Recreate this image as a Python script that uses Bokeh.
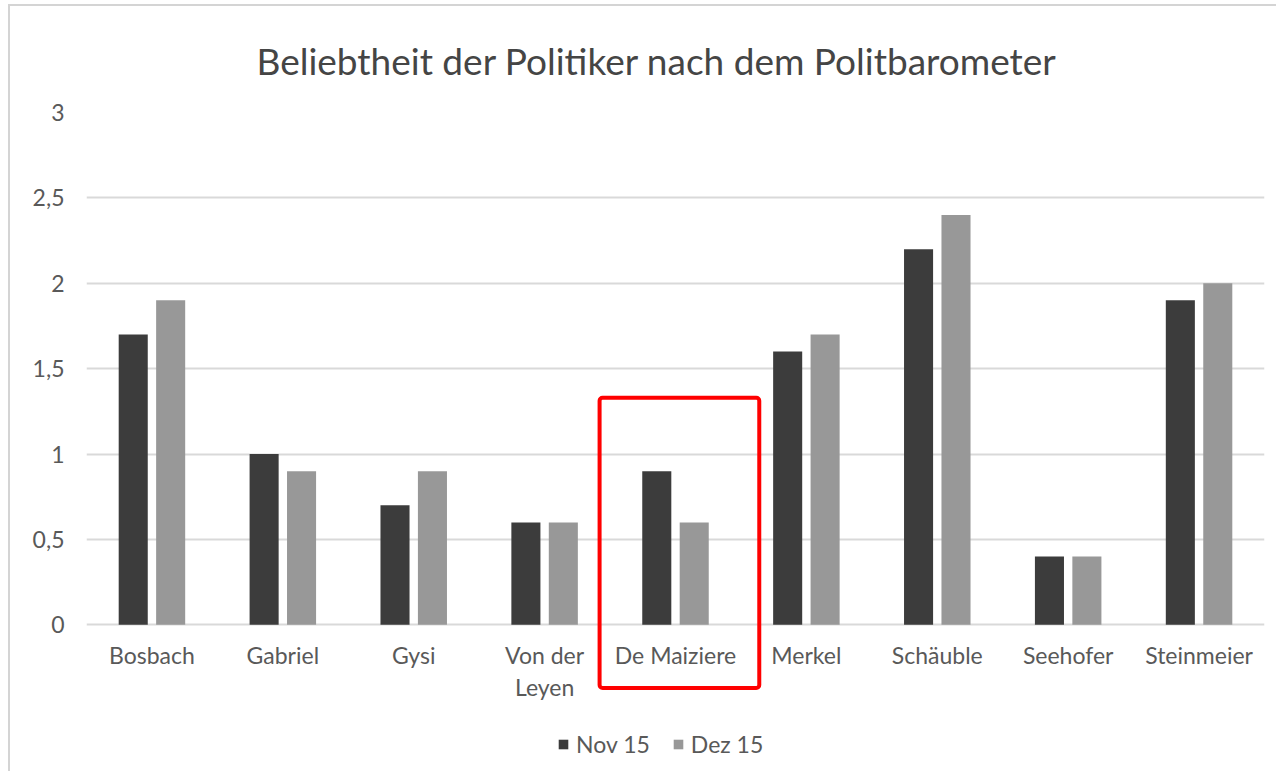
from bokeh.plotting import figure
from bokeh.models import (ColumnDataSource, FactorRange, Range1d, Legend, LegendItem,
                          BoxAnnotation, CustomJSTickFormatter, FixedTicker, Title)
from bokeh.core.properties import value
from bokeh.transform import dodge
from bokeh.embed import file_html
from bokeh.resources import INLINE

politicians = ["Bosbach", "Gabriel", "Gysi", "Von der Leyen", "De Maiziere",
               "Merkel", "Schäuble", "Seehofer", "Steinmeier"]
tick_labels = ["Bosbach", "Gabriel", "Gysi", "Von der\nLeyen", "De Maiziere",
               "Merkel", "Schäuble", "Seehofer", "Steinmeier"]
nov15 = [1.7, 1.0, 0.7, 0.6, 0.9, 1.6, 2.2, 0.4, 1.9]
dez15 = [1.9, 0.9, 0.9, 0.6, 0.6, 1.7, 2.4, 0.4, 2.0]
series_labels = ["Nov 15", "Dez 15"]
y_ticks = [0, 0.5, 1, 1.5, 2, 2.5, 3]
title_text = "Beliebtheit der Politiker nach dem Politbarometer"
highlight = "De Maiziere"

FONT = "Lato"
TEXT = "#595959"
DARK = "#3c3c3c"
LIGHT = "#989898"
GRID = "#d9d9d9"

src = ColumnDataSource(dict(cat=politicians, nov=nov15, dez=dez15,
                            lab=tick_labels, base=[0] * len(politicians)))

p = figure(x_range=FactorRange(factors=politicians), y_range=Range1d(-0.8, 3),
           width=1268, height=767, output_backend="svg", toolbar_location=None,
           min_border_left=76, min_border_right=14, min_border_top=105,
           min_border_bottom=12, title=None)
p.styles = {"margin-left": "8px", "margin-top": "4px",
            "border-left": "2px solid #d4d4d4", "border-top": "2px solid #d4d4d4"}
p.outline_line_color = None
p.background_fill_color = "white"
p.border_fill_color = "white"

r1 = p.vbar(x=dodge("cat", -0.143, range=p.x_range), top="nov", width=0.222,
            source=src, fill_color=DARK, line_color=None)
r2 = p.vbar(x=dodge("cat", 0.143, range=p.x_range), top="dez", width=0.222,
            source=src, fill_color=LIGHT, line_color=None)

# category labels below the zero line
p.text(x="cat", y="base", text="lab", source=src, text_align="center",
       text_baseline="top", y_offset=16, text_font=value(FONT),
       text_font_size="23px", text_color=TEXT, text_line_height=1.15)

t = Title(text=title_text, align="left", text_font=FONT, text_font_size="37px",
          text_font_style="normal", text_color="#454545", offset=170, standoff=59)
p.add_layout(t, "above")

p.xaxis.visible = False
p.xgrid.grid_line_color = None
p.ygrid.grid_line_color = GRID
p.ygrid.grid_line_width = 2

p.yaxis.ticker = FixedTicker(ticks=y_ticks)
p.yaxis.formatter = CustomJSTickFormatter(code="return tick.toString().replace('.', ',');")
p.yaxis.axis_line_color = None
p.yaxis.major_tick_line_color = None
p.yaxis.minor_tick_line_color = None
p.yaxis.major_label_standoff = 16
p.yaxis.major_label_text_font = FONT
p.yaxis.major_label_text_font_size = "23px"
p.yaxis.major_label_text_color = TEXT

legend = Legend(items=[LegendItem(label=series_labels[0], renderers=[r1]),
                       LegendItem(label=series_labels[1], renderers=[r2])],
                orientation="horizontal", location=(471, 3),
                glyph_width=12, glyph_height=12, label_standoff=7, spacing=22,
                padding=0, margin=0, border_line_color=None,
                background_fill_alpha=0,
                label_text_font=FONT, label_text_font_size="23px",
                label_text_color=TEXT)
p.add_layout(legend, "center")

idx = politicians.index(highlight)
box = BoxAnnotation(left=idx - 0.08, right=idx + 1.14, bottom=-0.37, top=1.33,
                    fill_alpha=0, line_color="#ff0000", line_alpha=1.0,
                    line_width=4, border_radius=3)
p.add_layout(box)

open("out.html", "w").write(file_html(p, INLINE))
